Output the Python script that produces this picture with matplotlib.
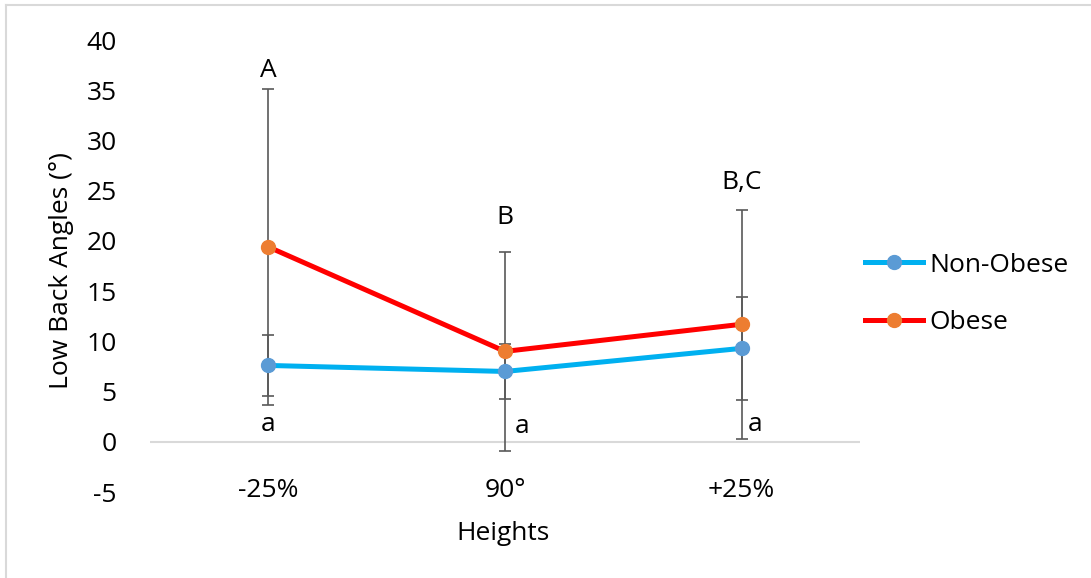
import matplotlib
matplotlib.use("Agg")
import matplotlib.pyplot as plt
from matplotlib.lines import Line2D

categories = ["-25%", "90°", "+25%"]
non_obese = [7.6, 7.0, 9.3]
non_obese_sd = [3.0, 2.7, 5.1]
obese = [19.4, 9.0, 11.7]
obese_sd = [15.7, 9.9, 11.4]
obese_letters = ["A", "B", "B,C"]
obese_letter_y = [37.0, 22.3, 25.8]
non_obese_letters = ["a", "a", "a"]
non_obese_letter_y = [1.7, 1.5, 1.7]
non_obese_letter_dx = [0.0, 0.07, 0.055]
yticks = [-5, 0, 5, 10, 15, 20, 25, 30, 35, 40]

plt.rcParams['font.family'] = ['Open Sans', 'DejaVu Sans']
FS = 19

fig = plt.figure(figsize=(10.91, 5.78), dpi=100)
ax = fig.add_axes([150/1091, 1-492/578, 710/1091, 452/578])

x = list(range(len(categories)))
errc = '#595959'
ax.errorbar(x, obese, yerr=obese_sd, fmt='none', ecolor=errc, elinewidth=1.2,
            capsize=4.5, capthick=1.2, zorder=2)
ax.errorbar(x, non_obese, yerr=non_obese_sd, fmt='none', ecolor=errc, elinewidth=1.2,
            capsize=4.5, capthick=1.2, zorder=2)
ax.plot(x, non_obese, color='#00B0F0', lw=3.6, marker='o', ms=10,
        mfc='#5B9BD5', mec='#5B9BD5', zorder=3, label='Non-Obese')
ax.plot(x, obese, color='#FF0000', lw=3.6, marker='o', ms=10,
        mfc='#ED7D31', mec='#ED7D31', zorder=4, label='Obese')

for i in x:
    ax.text(i, obese_letter_y[i], obese_letters[i], ha='center', va='center', fontsize=FS)
    ax.text(i + non_obese_letter_dx[i], non_obese_letter_y[i], non_obese_letters[i],
            ha='center', va='center', fontsize=FS)

ax.axhline(0, color='#D9D9D9', lw=1.5, zorder=1)
ax.set_xlim(-0.5, 2.5)
ax.set_ylim(-5, 40)
ax.set_yticks(yticks)
ax.set_yticklabels([str(v) for v in yticks], fontsize=FS)
ax.set_xticks(x)
ax.set_xticklabels(categories, fontsize=FS)
ax.tick_params(axis='both', length=0)
ax.tick_params(axis='x', pad=-10)
ax.tick_params(axis='y', pad=24)
for s in ax.spines.values():
    s.set_visible(False)

fig.text(503/1091, 1-533/578, "Heights", ha='center', va='center', fontsize=FS)
fig.text(62/1091, 1-271/578, "Low Back Angles (°)", ha='center', va='center',
         rotation=90, fontsize=FS)

leg = ax.legend(loc='center left', bbox_to_anchor=(865/1091, 1-294/578),
                bbox_transform=fig.transFigure, frameon=False, fontsize=FS,
                handlelength=2.2, handletextpad=0.25, labelspacing=1.25,
                borderaxespad=0, borderpad=0)

# chart border (light gray)
fig.add_artist(Line2D([6/1091, 6/1091], [0, 1-5/578], transform=fig.transFigure,
                      color='#D9D9D9', lw=1.5))
fig.add_artist(Line2D([6/1091, 1], [1-5/578, 1-5/578], transform=fig.transFigure,
                      color='#D9D9D9', lw=1.5))

fig.savefig("out.png", dpi=100)
